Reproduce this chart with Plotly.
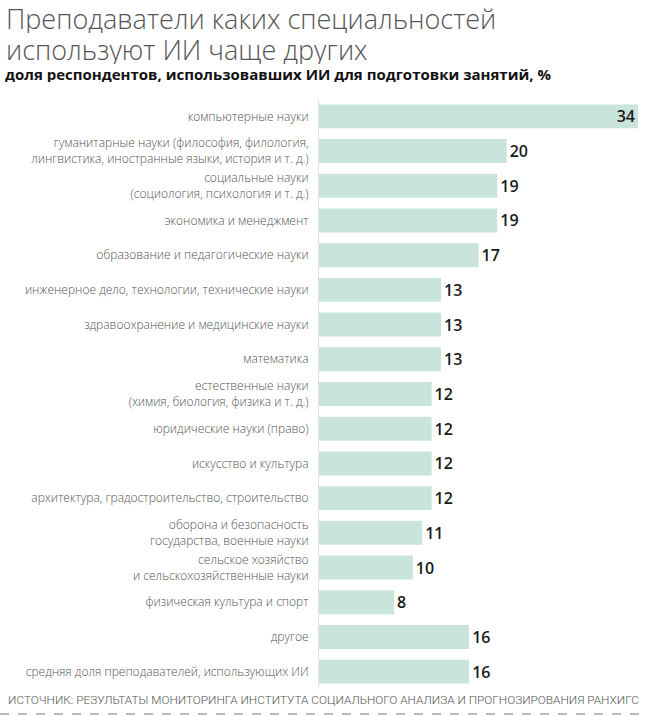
import plotly.graph_objects as go

categories = [
    "компьютерные науки",
    "гуманитарные науки (философия, филология,<br>лингвистика, иностранные языки, история и т. д.)",
    "социальные науки<br>(социология, психология и т. д.)",
    "экономика и менеджмент",
    "образование и педагогические науки",
    "инженерное дело, технологии, технические науки",
    "здравоохранение и медицинские науки",
    "математика",
    "естественные науки<br>(химия, биология, физика и т. д.)",
    "юридические науки (право)",
    "искусство и культура",
    "архитектура, градостроительство, строительство",
    "оборона и безопасность<br>государства, военные науки",
    "сельское хозяйство<br>и сельскохозяйственные науки",
    "физическая культура и спорт",
    "другое",
    "средняя доля преподавателей, использующих ИИ",
]
values = [34, 20, 19, 19, 17, 13, 13, 13, 12, 12, 12, 12, 11, 10, 8, 16, 16]

title_lines = ["Преподаватели каких специальностей", "используют ИИ чаще других"]
subtitle = "доля респондентов, использовавших ИИ для подготовки занятий, %"
source = "ИСТОЧНИК: РЕЗУЛЬТАТЫ МОНИТОРИНГА ИНСТИТУТА СОЦИАЛЬНОГО АНАЛИЗА И ПРОГНОЗИРОВАНИЯ РАНХИГС"

W_FIG, H_FIG = 646, 717
L, R, T, B = 319, 8, 99, 28
PW = W_FIG - L - R
PH = H_FIG - T - B


def px_x(px):
    return (px - L) / PW


def px_y(py):
    return (H_FIG - B - py) / PH


ids = list(range(len(categories)))
positions = ["inside" if v == max(values) else "outside" for v in values]
label_font = dict(family="Open Sans", size=16, color="#1a1a1a", weight=600)

fig = go.Figure(go.Bar(
    y=ids, x=values, orientation="h",
    marker=dict(color="#c8e4db", line=dict(width=0)),
    text=[str(v) for v in values],
    textposition=positions,
    insidetextanchor="end",
    textangle=0,
    constraintext="none",
    textfont=label_font,
    insidetextfont=label_font,
    outsidetextfont=label_font,
    cliponaxis=False,
    width=0.69,
    hoverinfo="skip",
))

fig.update_layout(
    width=W_FIG, height=H_FIG,
    margin=dict(l=L, r=R, t=T, b=B, autoexpand=False),
    paper_bgcolor="white", plot_bgcolor="white",
    showlegend=False,
    xaxis=dict(range=[0, 34], visible=False, fixedrange=True, automargin=False),
    yaxis=dict(
        tickmode="array", tickvals=ids, ticktext=categories,
        range=[len(ids) - 0.5, -0.5], automargin=False,
        showline=True, linecolor="#e3e3e3", linewidth=1,
        ticks="", ticklabelstandoff=7,
        tickfont=dict(family="Open Sans", size=12, color="#555555", weight=300),
        showgrid=False, zeroline=False, fixedrange=True,
    ),
)

fig.add_annotation(text=title_lines[0], xref="paper", yref="paper", xanchor="left", yanchor="middle",
                   x=px_x(5), y=px_y(18), showarrow=False, align="left", height=30, borderpad=0,
                   font=dict(family="Open Sans", size=27, color="#555555", weight=300))
fig.add_annotation(text=title_lines[1], xref="paper", yref="paper", xanchor="left", yanchor="middle",
                   x=px_x(5), y=px_y(49), showarrow=False, align="left", height=30, borderpad=0,
                   font=dict(family="Open Sans", size=27, color="#555555", weight=300))
fig.add_annotation(text=subtitle, xref="paper", yref="paper", xanchor="left", yanchor="middle",
                   x=px_x(4), y=px_y(74), showarrow=False, align="left", height=16, borderpad=0,
                   font=dict(family="Open Sans", size=15, color="#111111", weight=700))
fig.add_annotation(text=source, xref="paper", yref="paper", xanchor="center", yanchor="middle",
                   x=px_x(323), y=px_y(700), showarrow=False,
                   font=dict(family="Roboto", size=11.8, color="#555555", weight=300))
fig.add_shape(type="line", xref="paper", yref="paper",
              x0=px_x(0), x1=px_x(646), y0=px_y(714), y1=px_y(714),
              line=dict(color="#777777", width=1, dash="dash"))

fig.write_html(
    "out.html",
    config={"displayModeBar": False, "staticPlot": True},
    post_script="document.body.style.margin='0';document.body.style.overflow='hidden';",
)
